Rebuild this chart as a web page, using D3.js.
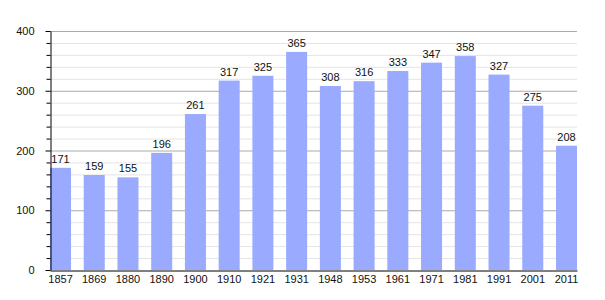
<!DOCTYPE html>
<html><head><meta charset="utf-8">
<script src="https://cdn.jsdelivr.net/npm/d3@7"></script>
<style>body{margin:0;background:#fff}svg{display:block;font-family:"Liberation Sans",Arial,sans-serif}</style>
</head><body><svg id="c" width="605" height="300"></svg>
<script>
const years = ["1857","1869","1880","1890","1900","1910","1921","1931","1948","1953","1961","1971","1981","1991","2001","2011"];
const population = [171,159,155,196,261,317,325,365,308,316,333,347,358,327,275,208];
const yTicks = [0,100,200,300,400];

(function () {
const svg = d3.select("#c");
const mLeft = 50, mRight = 577, mTop = 31, mBottom = 270;
const x = d3.scaleBand().domain(years).range([mLeft, mRight]).paddingInner(0.377).paddingOuter(0);
const y = d3.scaleLinear().domain([0, 400]).range([mBottom, mTop]);

// minor grid
svg.append("g").selectAll("line").data(d3.range(20, 401, 20).filter(v => v % 100 !== 0))
  .join("line").attr("x1", mLeft).attr("x2", mRight).attr("y1", d => y(d) + 0.5).attr("y2", d => y(d) + 0.5)
  .attr("stroke", "#e4e4e4").attr("stroke-width", 1);
// major grid
svg.append("g").selectAll("line").data(yTicks.filter(v => v > 0))
  .join("line").attr("x1", mLeft).attr("x2", mRight).attr("y1", d => y(d) + 0.5).attr("y2", d => y(d) + 0.5)
  .attr("stroke", "#aaaaaa").attr("stroke-width", 1);

// bars
svg.append("g").selectAll("rect").data(population).join("rect")
  .attr("x", (d, i) => x(years[i])).attr("width", x.bandwidth())
  .attr("y", d => y(d)).attr("height", d => y(0) - y(d))
  .attr("fill", "#99aaff");

// value labels
svg.append("g").selectAll("text").data(population).join("text")
  .attr("x", (d, i) => x(years[i]) + x.bandwidth() / 2).attr("y", d => y(d) - 5)
  .attr("text-anchor", "middle").attr("font-size", 11).attr("fill", "#111").text(d => d);

// y axis
const ya = svg.append("g").attr("transform", `translate(${mLeft + 0.5},0)`)
  .call(d3.axisLeft(y).tickValues(yTicks).tickSize(5).tickPadding(11).tickSizeOuter(0));
ya.select(".domain").attr("stroke", "#000");
ya.selectAll(".tick line").attr("stroke", "#000");
ya.selectAll("text").attr("font-size", 11).attr("fill", "#111").attr("font-family", "Liberation Sans, Arial, sans-serif");
svg.append("g").attr("transform", `translate(${mLeft + 0.5},0)`)
  .call(d3.axisLeft(y).tickValues(d3.range(20, 400, 20).filter(v => v % 100 !== 0)).tickSize(4).tickFormat("").tickSizeOuter(0))
  .call(g => g.select(".domain").remove())
  .selectAll(".tick line").attr("stroke", "#000");

// x axis
const xa = svg.append("g").attr("transform", `translate(0,${mBottom + 0.5})`)
  .call(d3.axisBottom(x).tickSize(0).tickPadding(5).tickSizeOuter(0));
xa.select(".domain").attr("stroke", "#000");
xa.selectAll("text").attr("font-size", 11).attr("fill", "#111").attr("font-family", "Liberation Sans, Arial, sans-serif");
})();
</script></body></html>
